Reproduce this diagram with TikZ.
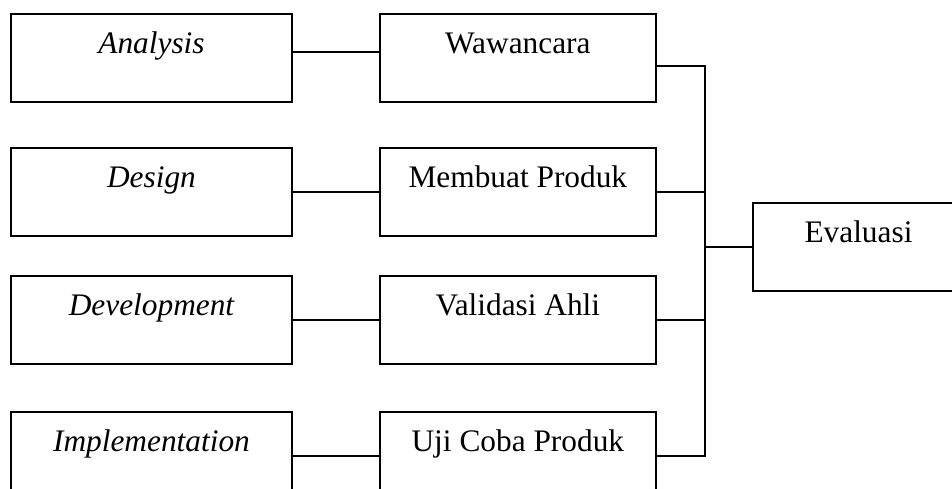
\documentclass[tikz,border=0pt]{standalone}
\usepackage{fontspec}
\setmainfont{Liberation Serif}
\usetikzlibrary{positioning,calc}

\begin{document}
\begin{tikzpicture}
            \tikzstyle{every path}=[line width=1.4pt]
            \tikzstyle{box}=[rectangle, draw, inner sep=0pt, text height=1cm, text depth=1.2cm, font=\fontsize{22.3}{26}\selectfont]
            \tikzstyle{stage}=[box, minimum width=7.025cm, font=\fontsize{22.3}{26}\selectfont\itshape]
            \tikzstyle{activity}=[box, minimum width=6.915cm]

            \useasboundingbox (0,0) rectangle (23.8,-12.2);

            \node[stage, anchor=north west] (an) at (0.25,-0.325) {Analysis};
            \node[stage, below=1.1cm of an] (ds) {Design};
            \node[stage, below=0.95cm of ds] (dv) {Development};
            \node[stage, below=1.15cm of dv] (im) {Implementation};

            \node[activity, right=2.14cm of an] (wa) {Wawancara};
            \node[activity, right=2.14cm of ds] (mp) {Membuat Produk};
            \node[activity, right=2.14cm of dv] (va) {Validasi Ahli};
            \node[activity, right=2.14cm of im] (uj) {Uji Coba Produk};

            \node[box, minimum width=5.275cm, anchor=north west] (ev) at (18.8,-5.05) {Evaluasi};
            \coordinate (bus) at ($(wa.east)!0.5!(ev.west)$);

            \draw ([yshift=0.15cm]an.east) -- ([yshift=0.15cm]wa.west);
            \draw (ds.east) -- (mp.west);
            \draw (dv.east) -- (va.west);
            \draw (im.east) -- (uj.west);

            \draw ([yshift=-0.2cm]wa.east) -| (bus |- uj.east) -- (uj.east);
            \draw (mp.east) -- (bus |- mp.east);
            \draw (va.east) -- (bus |- va.east);
            \draw (bus |- ev.west) -- (ev.west);

        \end{tikzpicture}
\end{document}
